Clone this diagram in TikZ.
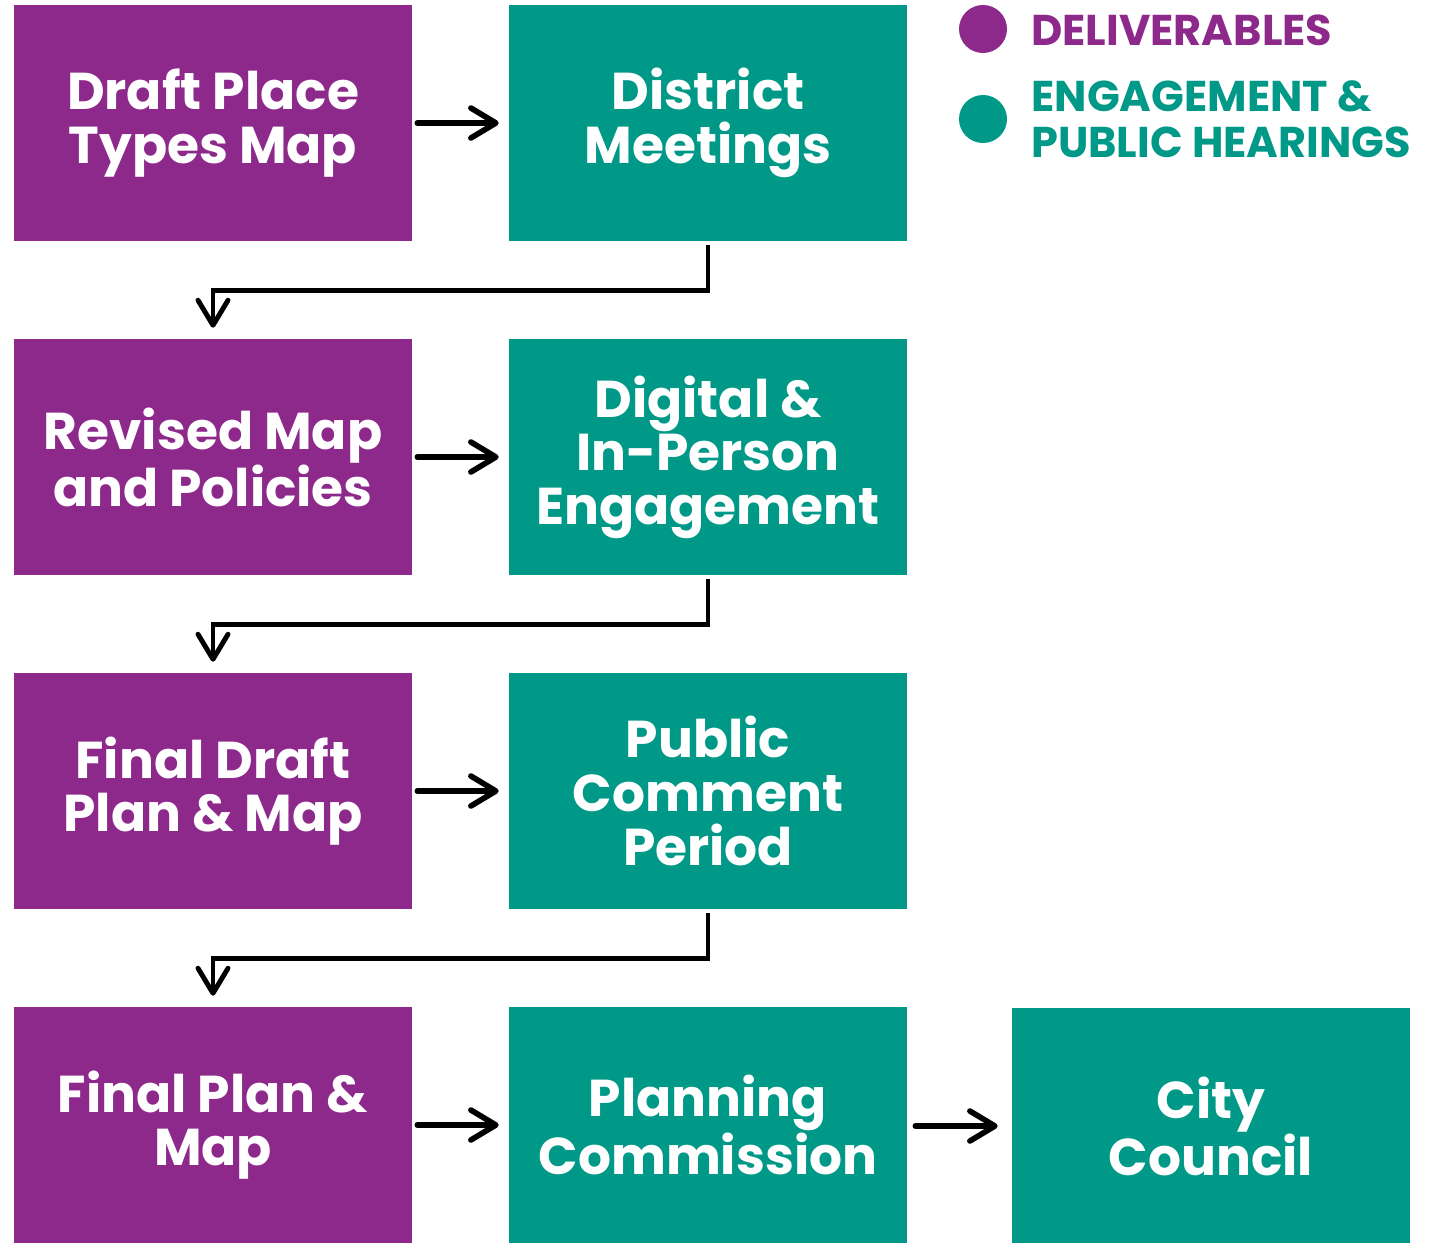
\documentclass[tikz,border=0pt]{standalone}
\usepackage{fontspec}
\setmainfont{Poppins}
\usetikzlibrary{arrows.meta}
\definecolor{deliv}{RGB}{142,41,140}
\definecolor{engage}{RGB}{0,152,135}

\begin{document}
\begin{tikzpicture}[x=0.02cm,y=-0.02cm,
  box/.style={minimum width=7.96cm,minimum height=4.72cm,inner sep=0pt,align=center,
    text=white,font=\fontsize{29.5}{30.5}\selectfont\bfseries},
  dbox/.style={box,fill=deliv},
  ebox/.style={box,fill=engage},
  flow/.style={line width=3.2pt,line cap=round,line join=round,
    -{Straight Barb[length=0.5cm,width=0.6cm,line cap=round,line join=round]}},
  elbow/.style={flow,line width=2.8pt,line cap=butt,line join=miter},
  legend/.style={anchor=west,align=left,inner sep=0pt,font=\fontsize{24.5}{26}\selectfont\bfseries}]
\useasboundingbox (0,0) rectangle (1440,1242);
\node[dbox] (dptm) at (213,123) {Draft Place\\Types Map};
\node[ebox] (dm) at (708,123) {District\\Meetings};
\node[dbox] (rmp) at (213,457) {Revised Map\\and Policies};
\node[ebox] (dipe) at (708,457) {Digital \&\\In-Person\\Engagement};
\node[dbox] (fdpm) at (213,791) {Final Draft\\Plan \& Map};
\node[ebox] (pcp) at (708,791) {Public\\Comment\\Period};
\node[dbox] (fpm) at (213,1125) {Final Plan \&\\Map};
\node[ebox] (pc) at (708,1125) {Planning\\Commission};
\node[ebox] (cc) at (1211,1126) {City\\Council};
% legend
\fill[deliv] (983,29) circle (24) coordinate (ldeliv);
\fill[engage] (983,119) circle (24) coordinate (lengage);
\node[legend,text=deliv] (tdeliv) at (1031,30) {DELIVERABLES};
\node[legend,text=engage] (tengage) at (1031,119) {ENGAGEMENT \&\\PUBLIC HEARINGS};
% arrows
\draw[flow,shorten <=0.1cm,shorten >=0.2cm] (dptm) -- (dm);
\draw[flow,shorten <=0.1cm,shorten >=0.2cm] (rmp) -- (dipe);
\draw[flow,shorten <=0.1cm,shorten >=0.2cm] (fdpm) -- (pcp);
\draw[flow,shorten <=0.1cm,shorten >=0.2cm] (fpm) -- (pc);
\draw[flow,shorten <=0.16cm,shorten >=0.28cm] (pc.east |- cc) -- (cc);
\draw[elbow,shorten <=0.08cm,shorten >=0.22cm] (dm.south) -- ++(0,49) -| (rmp.north);
\draw[elbow,shorten <=0.08cm,shorten >=0.22cm] (dipe.south) -- ++(0,49) -| (fdpm.north);
\draw[elbow,shorten <=0.08cm,shorten >=0.22cm] (pcp.south) -- ++(0,49) -| (fpm.north);
\end{tikzpicture}
\end{document}
